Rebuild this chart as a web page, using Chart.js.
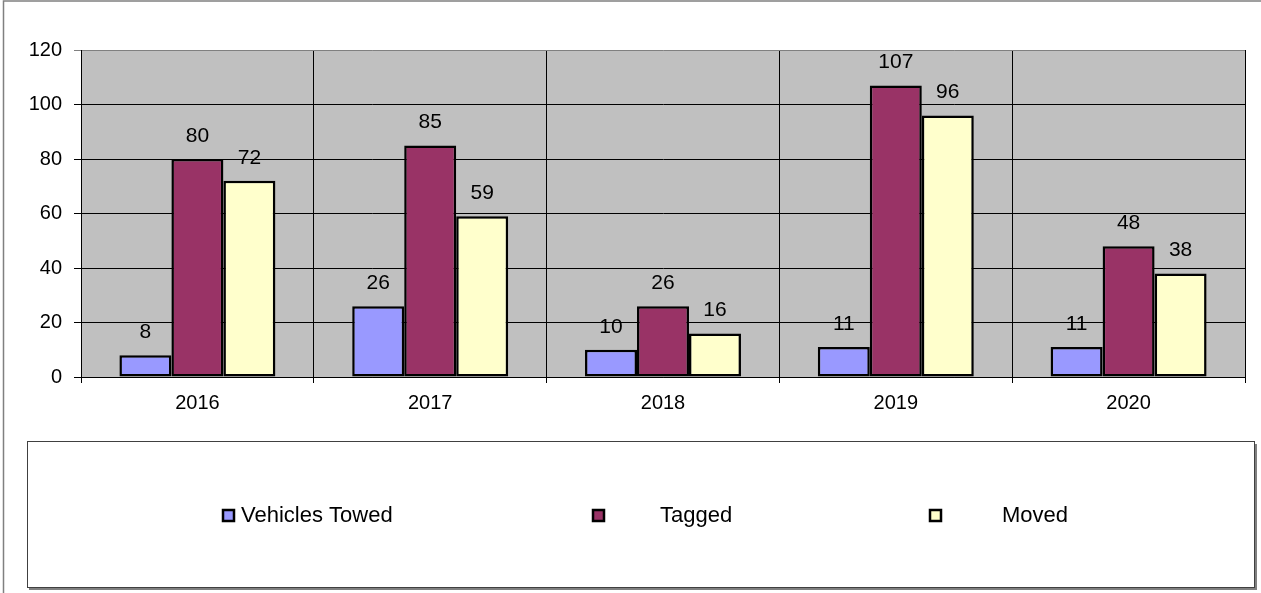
<!DOCTYPE html>
<html>
<head>
<meta charset="utf-8">
<script src="https://cdn.jsdelivr.net/npm/chart.js@4/dist/chart.umd.min.js"></script>
<style>
  body { margin: 0; background: #fff; }
  #wrap { width: 1261px; height: 593px; }
</style>
</head>
<body>
<div id="wrap"><canvas id="myChart" width="1261" height="593"></canvas></div>
<script>
// data
const years = ['2016', '2017', '2018', '2019', '2020'];
const towed = [8, 26, 10, 11, 11];
const tagged = [80, 85, 26, 107, 48];
const moved = [72, 59, 16, 96, 38];
const yTicks = [0, 20, 40, 60, 80, 100, 120];

const FONT = "'Liberation Sans', Arial, sans-serif";

// gray plot area + page border
const background = {
  id: 'background',
  beforeDraw(chart) {
    const { ctx, chartArea } = chart;
    ctx.save();
    ctx.fillStyle = '#fff';
    ctx.fillRect(0, 0, chart.width, chart.height);
    ctx.fillStyle = '#C0C0C0';
    ctx.fillRect(chartArea.left, chartArea.top, chartArea.right - chartArea.left, chartArea.bottom - chartArea.top);
    ctx.strokeStyle = '#808080';
    ctx.lineWidth = 1.5;
    ctx.beginPath();
    ctx.moveTo(3.5, chart.height);
    ctx.lineTo(3.5, 1);
    ctx.lineTo(chart.width, 1);
    ctx.stroke();
    ctx.restore();
  }
};

// value above each bar
const valueLabels = {
  id: 'valueLabels',
  afterDatasetsDraw(chart) {
    const ctx = chart.ctx;
    ctx.save();
    ctx.font = '21px ' + FONT;
    ctx.fillStyle = '#000';
    ctx.textAlign = 'center';
    ctx.textBaseline = 'middle';
    chart.data.datasets.forEach((ds, i) => {
      chart.getDatasetMeta(i).data.forEach((bar, j) => {
        ctx.fillText(ds.data[j], bar.x, bar.y - 23);
      });
    });
    ctx.restore();
  }
};

// boxed legend at the bottom
const boxLegend = {
  id: 'boxLegend',
  afterDraw(chart) {
    const ctx = chart.ctx;
    const markerX = [222, 592, 929];
    const textX = [241, 660, 1002];
    const cy = 515;
    ctx.save();
    // shadow
    ctx.strokeStyle = '#808080';
    ctx.lineWidth = 2;
    ctx.beginPath();
    ctx.moveTo(1256, 444);
    ctx.lineTo(1256, 589);
    ctx.lineTo(29, 589);
    ctx.stroke();
    ctx.strokeStyle = '#404040';
    ctx.lineWidth = 1;
    ctx.strokeRect(27.5, 441.5, 1227, 146);
    ctx.font = '22px ' + FONT;
    ctx.textBaseline = 'middle';
    ctx.textAlign = 'left';
    chart.data.datasets.forEach((ds, i) => {
      ctx.fillStyle = ds.backgroundColor;
      ctx.fillRect(markerX[i], cy - 6, 13, 13);
      ctx.strokeStyle = '#000';
      ctx.lineWidth = 2.5;
      ctx.strokeRect(markerX[i] + 1, cy - 5, 11, 11);
      ctx.fillStyle = '#000';
      ctx.fillText(ds.label, textX[i], cy + 1);
    });
    ctx.restore();
  }
};

const ctx = document.getElementById('myChart');

new Chart(ctx, {
  type: 'bar',
  data: {
    labels: years,
    datasets: [
      { label: 'Vehicles Towed', data: towed, backgroundColor: '#9999FF' },
      { label: 'Tagged', data: tagged, backgroundColor: '#993366' },
      { label: 'Moved', data: moved, backgroundColor: '#FFFFCC' }
    ].map(d => Object.assign(d, {
      borderColor: '#000',
      borderWidth: 2.5,
      borderSkipped: false,
      categoryPercentage: 0.67,
      barPercentage: 1
    }))
  },
  options: {
    responsive: false,
    animation: false,
    layout: { padding: { top: 50, right: 16, left: 0, bottom: 0 } },
    scales: {
      x: {
        grid: {
          offset: true,
          color: c => c.index === years.length ? '#808080' : '#000',
          lineWidth: 1,
          tickLength: 6
        },
        border: { color: '#000', width: 1 },
        ticks: { color: '#000', font: { family: FONT, size: 20 }, padding: 8 },
        afterFit: scale => { scale.height = 216; }
      },
      y: {
        min: 0,
        max: 120,
        afterBuildTicks: scale => { scale.ticks = yTicks.map(v => ({ value: v })); },
        grid: {
          color: c => c.tick && c.tick.value === 120 ? '#808080' : '#000',
          lineWidth: 1,
          tickLength: 7
        },
        border: { color: '#000', width: 1 },
        ticks: { color: '#000', font: { family: FONT, size: 20 }, padding: 12 },
        afterFit: scale => { scale.width = 81; }
      }
    },
    plugins: {
      legend: { display: false },
      tooltip: { enabled: false }
    }
  },
  plugins: [background, valueLabels, boxLegend]
});
</script>
</body>
</html>
